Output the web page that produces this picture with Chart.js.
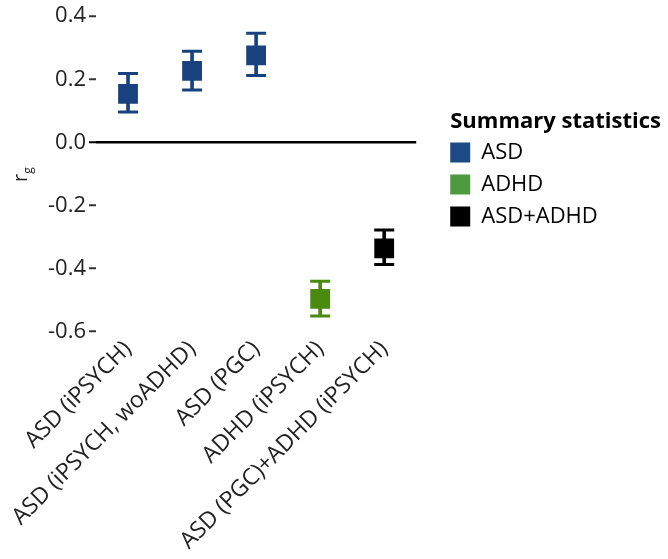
<!DOCTYPE html>
<html>
<head>
<meta charset="utf-8">
<script src="https://cdn.jsdelivr.net/npm/chart.js@4.4.0/dist/chart.umd.min.js"></script>
<style>
    body { margin: 0; background: #fff; }
    #wrap { width: 668px; height: 559px; }
</style>
</head>
<body>
<div id="wrap"><canvas id="chart-rg"></canvas></div>
<script>

azul = '#17427f'
verde = '#4a8a0e'
preto = '#000000'

categorias = ['ASD (iPSYCH)', 'ASD (iPSYCH, woADHD)', 'ASD (PGC)', 'ADHD (iPSYCH)', 'ASD (PGC)+ADHD (iPSYCH)']
rg = [0.154, 0.227, 0.276, -0.496, -0.336]
rgMin = [0.096, 0.166, 0.212, -0.550, -0.387]
rgMax = [0.218, 0.289, 0.346, -0.440, -0.278]
cores = [azul, azul, azul, verde, preto]

legendaNomes = ['ASD', 'ADHD', 'ASD+ADHD']
legendaCores = ['#1b4a85', '#4e9a3e', '#000000']

yTicks = [-0.6, -0.4, -0.2, 0.0, 0.2, 0.4]

fonte = '"Open Sans", sans-serif'
tituloFonte = { family: fonte, size: 22, weight: 'bold', lineHeight: 1 }

// r com g subscrito, desenhado na lateral
const tituloY = {
    id: 'tituloY',
    afterDraw(chart) {
        const ctx = chart.ctx
        ctx.save()
        ctx.translate(27, 182)
        ctx.rotate(-Math.PI / 2)
        ctx.fillStyle = '#222'
        ctx.textBaseline = 'alphabetic'
        ctx.font = '20px ' + fonte
        ctx.fillText('r', 0, 0)
        let w = ctx.measureText('r').width
        ctx.font = '12px ' + fonte
        ctx.fillText('g', w, 5)
        ctx.restore()
    }
}

// a legenda do chart.js nao conta a largura do titulo
const legendaLargura = {
    id: 'legendaLargura',
    beforeLayout(chart) {
        let lg = chart.legend
        if (!lg || lg._ajustada) return
        let fitOriginal = lg.fit
        lg.fit = function () {
            fitOriginal.call(this)
            let ctx = this.ctx
            ctx.save()
            ctx.font = Chart.helpers.toFont(tituloFonte).string
            let tw = ctx.measureText(this.options.title.text).width
            ctx.restore()
            let pad = this.options.labels.padding
            this.width = Math.max(this.width, tw + pad * 2)
        }
        lg._ajustada = true
    }
}

const chartRg = new Chart(
    document.getElementById('chart-rg'), {
    data: {
        labels: categorias,
        datasets: [
            {
                type: 'bar',
                label: 'haste',
                data: rgMin.map((v, i) => [v, rgMax[i]]),
                backgroundColor: cores,
                barThickness: 3,
                order: 3
            },
            {
                type: 'line',
                label: 'min',
                data: rgMin,
                showLine: false,
                pointStyle: 'line',
                pointRadius: 10,
                pointBorderWidth: 3,
                pointBorderColor: cores,
                order: 2
            },
            {
                type: 'line',
                label: 'max',
                data: rgMax,
                showLine: false,
                pointStyle: 'line',
                pointRadius: 10,
                pointBorderWidth: 3,
                pointBorderColor: cores,
                order: 2
            },
            {
                type: 'line',
                label: 'rg',
                data: rg,
                showLine: false,
                pointStyle: 'rect',
                pointRadius: 14,
                pointBorderWidth: 0,
                pointBackgroundColor: cores,
                pointBorderColor: cores,
                order: 1
            }
        ]
    },
    options: {
        responsive: true,
        maintainAspectRatio: false,
        animation: false,
        layout: {
            padding: { left: 0, top: 11, right: -3, bottom: 0 }
        },
        scales: {
            x: {
                offset: true,
                grid: { display: false, drawTicks: false },
                border: { display: false },
                ticks: {
                    minRotation: 45,
                    maxRotation: 45,
                    padding: 4,
                    color: '#222',
                    font: { family: fonte, size: 23 }
                }
            },
            y: {
                min: -0.6,
                max: 0.4,
                afterBuildTicks: (axis) => { axis.ticks = yTicks.map(v => ({ value: v })) },
                afterFit: (s) => { s.width = 96 },
                border: { display: false },
                grid: {
                    color: (c) => c.tick && c.tick.value === 0 ? '#000' : 'transparent',
                    lineWidth: 2.5,
                    tickLength: 7,
                    tickWidth: 2,
                    tickColor: (c) => c.tick && c.tick.value === 0 ? '#000' : '#333',
                    drawTicks: true
                },
                ticks: {
                    padding: 3,
                    color: '#222',
                    font: { family: fonte, size: 22 },
                    callback: (v) => v.toFixed(1)
                }
            },
            espaco: {
                type: 'linear',
                position: 'right',
                display: true,
                grid: { display: false },
                border: { display: false },
                ticks: { display: false },
                afterFit: (s) => { s.width = 24 }
            }
        },
        plugins: {
            tooltip: { enabled: false },
            legend: {
                position: 'right',
                align: 'center',
                fullSize: false,
                title: {
                    display: true,
                    text: 'Summary statistics',
                    color: '#000',
                    font: tituloFonte,
                    padding: { top: 0, bottom: -1 }
                },
                labels: {
                    boxWidth: 20,
                    boxHeight: 20,
                    padding: 10,
                    color: '#111',
                    font: { family: fonte, size: 22 },
                    generateLabels: () => legendaNomes.map((n, i) => ({
                        text: n,
                        fillStyle: legendaCores[i],
                        strokeStyle: legendaCores[i],
                        lineWidth: 0
                    }))
                }
            }
        }
    },
    plugins: [tituloY, legendaLargura]
})
</script>
</body>
</html>
